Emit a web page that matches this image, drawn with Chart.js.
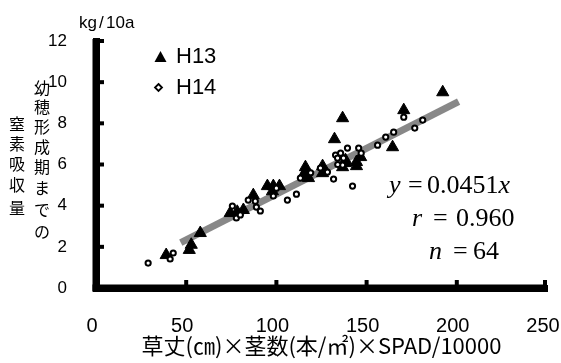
<!DOCTYPE html>
<html>
<head>
<meta charset="utf-8">
<script src="https://cdn.jsdelivr.net/npm/chart.js@4.4.0/dist/chart.umd.min.js"></script>
<style>
html, body { margin: 0; padding: 0; background: #fff; }
</style>
</head>
<body>
<canvas id="scatter-chart" width="561" height="363"></canvas>
<script>
// H13 (filled triangles)
var h13X = [38.9, 51.7, 52.8, 57.8, 74.4, 78.3, 81.7, 87.2, 95.0, 98.3, 101.7, 97.8, 116.1, 115.0, 117.8,
            116.1, 125.6, 125.6, 136.7, 132.2, 138.3, 136.7, 138.3, 144.4, 146.7, 144.4, 164.4, 170.6, 192.2];
var h13Y = [1.60, 1.85, 2.10, 2.67, 3.64, 3.70, 3.79, 4.51, 4.95, 4.95, 4.95, 4.70, 5.87, 5.49, 5.34,
            5.63, 5.92, 5.58, 8.25, 7.23, 6.07, 5.87, 6.21, 6.12, 6.36, 5.92, 6.84, 8.64, 9.51];
// H14 (open circles)
var h14X = [28.9, 42.8, 41.1, 75.6, 77.8, 84.4, 88.3, 88.9, 91.1, 98.3, 106.1, 111.1, 113.3, 124.4, 128.3,
            131.7, 132.8, 135.6, 137.2, 133.9, 136.7, 139.4, 145.6, 142.2, 156.1, 160.6, 165.0, 170.6, 176.7,
            181.1, 80.0, 119.0, 134.0, 147.0, 100.0];
var h14Y = [1.21, 1.70, 1.41, 3.98, 3.40, 4.27, 4.22, 3.93, 3.74, 4.47, 4.27, 4.56, 5.34, 5.83, 5.63,
            5.29, 6.46, 6.55, 6.31, 6.31, 5.97, 6.80, 6.80, 4.95, 6.94, 7.33, 7.57, 8.30, 7.77,
            8.16, 3.55, 5.60, 6.00, 6.55, 4.85];
// regression line end points
var fitX = [47, 201];
var fitY = [2.2, 9.05];

var xTitle = '草丈(㎝)×茎数(本/㎡)×SPAD/10000';
var yTitleRight = ['幼', '穂', '形', '成', '期', 'ま', 'で', 'の'];
var yTitleLeft = ['窒', '素', '吸', '収', '量'];
var legendLabels = ['H13', 'H14'];

function toPoints(xs, ys) {
    var pts = [];
    for (var i = 0; i < xs.length; i++) {
        pts.push({ x: xs[i], y: ys[i] });
    }
    return pts;
}

var SANS = '"Liberation Sans", Arial, sans-serif';
var CJK = '"Noto Sans CJK JP", sans-serif';
var SERIF = '"Liberation Serif", "Times New Roman", serif';

var extras = {
    id: 'extras',
    afterDraw: function (chart) {
        var ctx = chart.ctx;
        var xs = chart.scales.x, ys = chart.scales.y;
        var area = chart.chartArea;
        ctx.save();
        ctx.fillStyle = '#000';
        // heavy axis lines
        var yTop = ys.getPixelForValue(12);
        var x0 = xs.getPixelForValue(0), y0 = ys.getPixelForValue(0);
        var xEnd = xs.getPixelForValue(250);
        ctx.fillRect(x0 - 3.5, yTop - 2, 7, y0 - yTop + 5.5);
        ctx.fillRect(x0 - 3.5, y0 - 3.5, xEnd - x0 + 3.5, 7);
        // inward tick marks
        ys.ticks.forEach(function (t) {
            if (t.value === 0) return;
            var py = ys.getPixelForValue(t.value);
            ctx.fillRect(x0 + 3, py - 2, 5, 4);
        });
        xs.ticks.forEach(function (t) {
            if (t.value === 0) return;
            var px = xs.getPixelForValue(t.value);
            if (t.value === 250) px -= 2;
            ctx.fillRect(px - 2, y0 - 8, 4, 5);
        });

        // unit
        ctx.font = '17px ' + SANS;
        ctx.textAlign = 'left';
        ctx.textBaseline = 'alphabetic';
        ctx.fillText('kg', 79, 28);
        ctx.fillText('/', 99, 28);
        ctx.fillText('10a', 106, 28);

        // y title, vertical
        ctx.font = '16px ' + CJK;
        ctx.textAlign = 'center';
        ctx.textBaseline = 'middle';
        var rightY = [88, 107, 127, 147, 167, 188, 210, 232];
        yTitleRight.forEach(function (c, i) { ctx.fillText(c, 42, rightY[i]); });
        var leftY = [124, 144, 164, 185, 208];
        yTitleLeft.forEach(function (c, i) { ctx.fillText(c, 17, leftY[i]); });

        // legend
        ctx.beginPath();
        ctx.moveTo(160.5, 51);
        ctx.lineTo(166.5, 62);
        ctx.lineTo(154.5, 62);
        ctx.closePath();
        ctx.fill();
        ctx.lineWidth = 1.8;
        ctx.strokeStyle = '#000';
        ctx.fillStyle = '#fff';
        ctx.beginPath();
        ctx.moveTo(158.5, 84);
        ctx.lineTo(162, 87.5);
        ctx.lineTo(158.5, 91);
        ctx.lineTo(155, 87.5);
        ctx.closePath();
        ctx.fill();
        ctx.stroke();
        ctx.fillStyle = '#000';
        ctx.font = '22px ' + SANS;
        ctx.textAlign = 'left';
        ctx.textBaseline = 'middle';
        ctx.fillText(legendLabels[0], 176, 57);
        ctx.fillText(legendLabels[1], 176, 88);

        // equation
        ctx.textBaseline = 'alphabetic';
        function part(txt, x, y, italic) {
            ctx.font = (italic ? 'italic ' : '') + '26px ' + SERIF;
            ctx.fillText(txt, x, y);
            return x + ctx.measureText(txt).width;
        }
        var e = part('y', 389, 193, true);
        part('=', 408, 193, false);
        e = part('0.0451', 427, 193, false);
        part('x', e, 193, true);
        part('r', 412, 226, true);
        part('=', 433, 226, false);
        part('0.960', 456, 226, false);
        part('n', 429, 259, true);
        part('=', 453, 259, false);
        part('64', 473, 259, false);
        ctx.restore();
    }
};

new Chart(document.getElementById('scatter-chart'), {
    type: 'scatter',
    data: {
        datasets: [
            {
                label: legendLabels[1],
                data: toPoints(h14X, h14Y),
                pointStyle: 'circle',
                pointRadius: 2.6,
                borderWidth: 2,
                borderColor: '#000',
                backgroundColor: '#fff',
                order: 1
            },
            {
                label: legendLabels[0],
                data: toPoints(h13X, h13Y),
                pointStyle: 'triangle',
                pointRadius: 7,
                borderWidth: 1,
                borderColor: '#000',
                backgroundColor: '#000',
                order: 2
            },
            {
                type: 'line',
                label: 'fit',
                data: toPoints(fitX, fitY),
                borderColor: '#888',
                borderWidth: 7,
                pointRadius: 0,
                borderCapStyle: 'butt',
                order: 3
            }
        ]
    },
    options: {
        responsive: false,
        animation: false,
        devicePixelRatio: 1,
        layout: { padding: { top: 41, right: 14, left: 0, bottom: 0 } },
        plugins: {
            legend: { display: false },
            tooltip: { enabled: false }
        },
        scales: {
            x: {
                type: 'linear',
                min: 0,
                max: 250,
                ticks: {
                    stepSize: 50,
                    color: '#000',
                    padding: 18,
                    labelOffset: -4,
                    maxRotation: 0,
                    font: { family: SANS, size: 20 }
                },
                grid: { display: false },
                border: { display: true, color: '#000', width: 7 },
                title: {
                    display: true,
                    text: xTitle,
                    color: '#000',
                    font: { family: CJK, size: 22 },
                    padding: { top: 0, bottom: 4 }
                },
                afterFit: function (s) { s.height = 75; s.paddingLeft = 0; s.paddingRight = 0; }
            },
            y: {
                min: 0,
                max: 12,
                ticks: {
                    stepSize: 2,
                    color: '#000',
                    padding: 21,
                    font: { family: SANS, size: 17 }
                },
                grid: { display: false },
                border: { display: true, color: '#000', width: 7 },
                afterFit: function (s) { s.width = 96; s.paddingTop = 0; s.paddingBottom = 0; }
            }
        }
    },
    plugins: [extras]
});
</script>
</body>
</html>
